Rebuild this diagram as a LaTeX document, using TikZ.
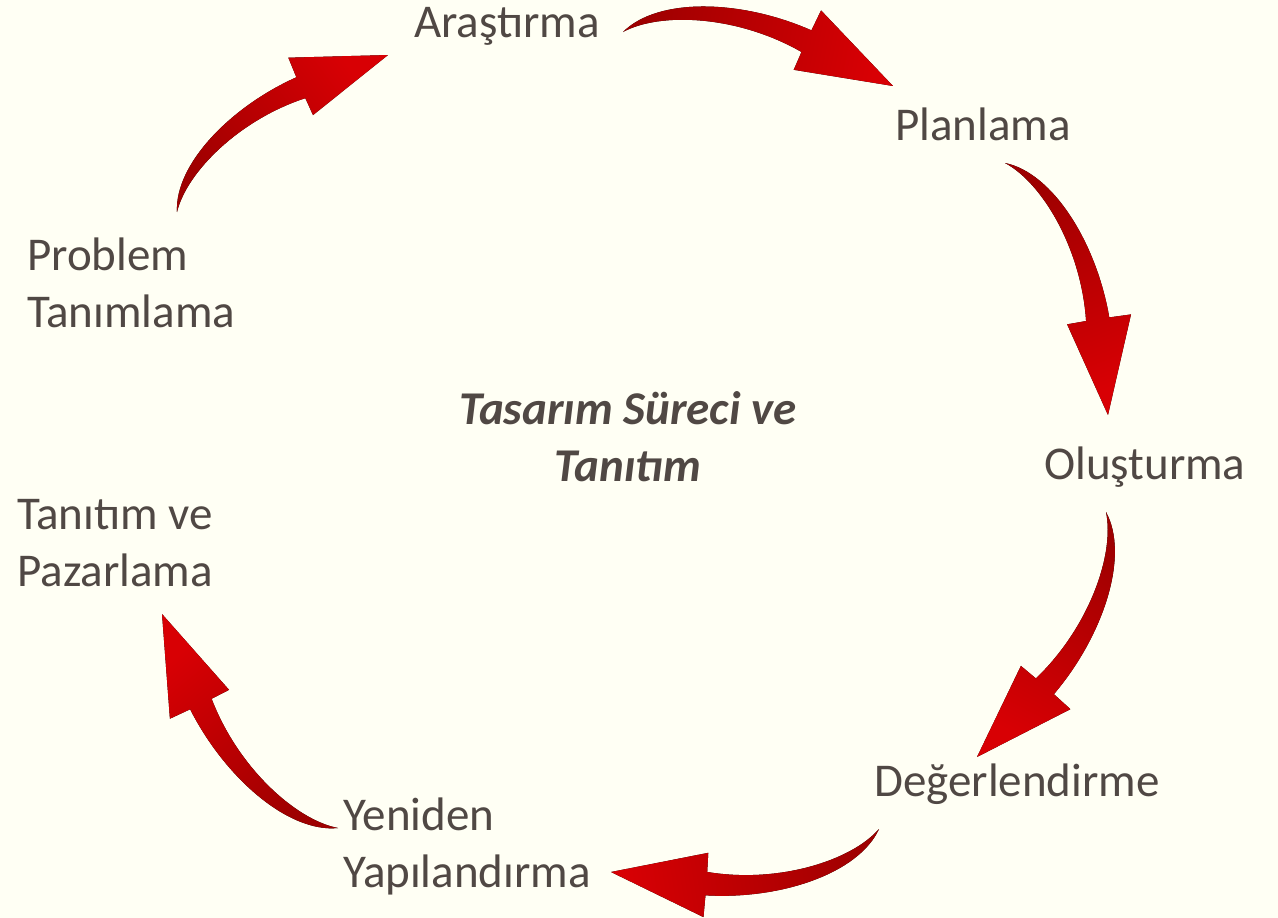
\documentclass[tikz,border=0pt]{standalone}
\usepackage{fontspec}
\setmainfont{Carlito}
\usetikzlibrary{calc}

\definecolor{cream}{RGB}{255,255,244}
\definecolor{inkgray}{RGB}{80,72,68}
\definecolor{darkred}{RGB}{158,0,0}
\definecolor{brightred}{RGB}{216,0,4}

\tikzset{
  lbl/.style={anchor=base west, inner sep=0pt, align=left, text=inkgray,
    font=\fontsize{47}{57}\selectfont},
  titletext/.style={anchor=base, inner sep=0pt, align=center, text=inkgray,
    font=\fontsize{47}{57}\selectfont\bfseries\itshape},
}

% curved, tapering arrow from tail coordinate #1 to tip coordinate #2
\newcommand{\curvedarrow}[2]{%
  \pgfpointdiff{\pgfpointanchor{#1}{center}}{\pgfpointanchor{#2}{center}}%
  \pgfgetlastxy{\arrdx}{\arrdy}%
  \pgfmathsetmacro{\arrang}{atan2(\arrdy,\arrdx)}%
  \pgfmathsetmacro{\arrlen}{veclen(\arrdx,\arrdy)}%
  \pgfmathsetmacro{\shadang}{\arrang+90}%
  \begin{scope}[shift={(#1)}, rotate=\arrang, x=\arrlen pt, y=\arrlen pt]
    \fill[left color=darkred, right color=brightred, shading angle=\shadang]
      (0,0) .. controls (0.1,0.15) and (0.4,0.2) .. (0.67,0.14)
      -- (0.69,0.218) -- (1,0) -- (0.635,-0.013) -- (0.65,0.056)
      .. controls (0.4,0.14) and (0.12,0.1) .. (0,0) -- cycle;
  \end{scope}}

\begin{document}
\begin{tikzpicture}[x=1pt, y=-1pt]

    % Background and fixed bounding box (image pixels)
    \fill[cream] (0,0) rectangle (1278,918);
    \useasboundingbox (0,0) rectangle (1278,918);

    % 1. Stage labels (two-line labels sit on the baseline of their last line)
    \node[lbl] (arastirma) at (414,37) {Araştırma};
    \node[lbl] (planlama) at (895,140) {Planlama};
    \node[lbl] (olusturma) at (1044,479) {Oluşturma};
    \node[lbl] (degerlendirme) at (874,796) {Değerlendirme};
    \node[lbl] (yeniden) at (343,887) {Yeniden\\Yapılandırma};
    \node[lbl] (tanitim) at (17,586) {Tanıtım ve\\Pazarlama};
    \node[lbl] (problem) at (27,327) {Problem\\Tanımlama};

    % 2. Title in the middle
    \node[titletext] (baslik) at (628,481) {Tasarım Süreci ve\\Tanıtım};

    % 3. Tail and tip of every arrow
    \coordinate (t1) at (623,32);   \coordinate (h1) at (893,86);
    \coordinate (t2) at (1005,163); \coordinate (h2) at (1108,415);
    \coordinate (t3) at (1106,512); \coordinate (h3) at (977,757);
    \coordinate (t4) at (879,829);  \coordinate (h4) at (611,872);
    \coordinate (t5) at (338,828);  \coordinate (h5) at (162,614);
    \coordinate (t6) at (177,212);  \coordinate (h6) at (388,55);

    % 4. Draw the arrows
    \foreach \i in {1,...,6} {
        \curvedarrow{t\i}{h\i}
    }

\end{tikzpicture}
\end{document}
